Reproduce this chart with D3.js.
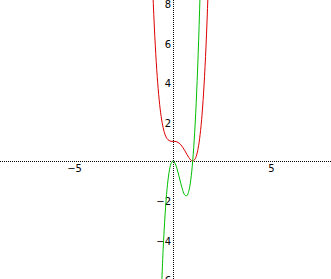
<!DOCTYPE html>
<html>
<head>
<meta charset="utf-8">
<script src="https://cdn.jsdelivr.net/npm/d3@7"></script>
<style>
  body { margin: 0; background: #fff; }
  text { font-family: "DejaVu Sans", sans-serif; font-size: 10px; fill: #000; }
</style>
</head>
<body>
<div id="chart"></div>
<script>
// red curve points
const redX = [-1.1, -1.0, -0.9, -0.8, -0.7, -0.6, -0.5, -0.4, -0.3, -0.2, -0.1, 0, 0.1, 0.2, 0.3, 0.4, 0.5, 0.6, 0.7, 0.8, 0.9, 1.0, 1.1, 1.2, 1.3, 1.4, 1.5, 1.6, 1.7, 1.8, 1.9]
const redY = [10.72, 8, 5.88, 4.28, 3.09, 2.25, 1.69, 1.33, 1.13, 1.04, 1.0, 1, 0.996, 0.973, 0.916, 0.821, 0.688, 0.525, 0.348, 0.181, 0.052, 0, 0.068, 0.309, 0.78, 1.55, 2.69, 4.28, 6.4, 9.16, 12.66]

// green curve points
const greenX = [-0.6, -0.5, -0.4, -0.3, -0.2, -0.1, 0, 0.1, 0.2, 0.3, 0.4, 0.5, 0.6, 0.7, 0.8, 0.9, 1.0, 1.1, 1.2, 1.3, 1.4, 1.5]
const greenY = [-6.91, -4.5, -2.69, -1.4, -0.58, -0.13, 0, -0.108, -0.384, -0.756, -1.152, -1.5, -1.728, -1.764, -1.536, -0.972, 0, 1.452, 3.456, 6.084, 9.408, 13.5]

// tick labels
const xTicks = [-5, 5]
const yTicks = [-6, -4, -2, 2, 4, 6, 8]

const width = 331
const height = 279
const unit = 19.7

const svg = d3
  .select("#chart")
  .append("svg")
  .attr("width", width)
  .attr("height", height)

const x = d3.scaleLinear().domain([-173 / unit, (width - 173) / unit]).range([0, width])
const y = d3.scaleLinear().domain([161 / unit, (161 - height) / unit]).range([0, height])

svg.append("defs").append("clipPath").attr("id", "clip")
  .append("rect").attr("width", width).attr("height", height)

//dotted axes
svg.append("line")
  .attr("x1", 0).attr("x2", width)
  .attr("y1", Math.round(y(0)) + 0.5).attr("y2", Math.round(y(0)) + 0.5)
  .attr("stroke", "#000").attr("stroke-dasharray", "1,1")
svg.append("line")
  .attr("x1", Math.round(x(0)) + 0.5).attr("x2", Math.round(x(0)) + 0.5)
  .attr("y1", 0).attr("y2", height)
  .attr("stroke", "#000").attr("stroke-dasharray", "1,1")

//tick labels
svg.selectAll(".xl")
  .data(xTicks)
  .enter()
  .append("text")
  .attr("class", "xl")
  .attr("x", d => x(d))
  .attr("y", y(0) + 11)
  .attr("text-anchor", "middle")
  .text(d => d < 0 ? "\u2212" + Math.abs(d) : d)

svg.selectAll(".yl")
  .data(yTicks)
  .enter()
  .append("text")
  .attr("class", "yl")
  .attr("x", x(0) - 2)
  .attr("y", d => y(d) + 5)
  .attr("text-anchor", "end")
  .text(d => d < 0 ? "\u2212" + Math.abs(d) : d)

const line = d3.line()
  .x(d => x(d[0]))
  .y(d => y(d[1]))
  .curve(d3.curveCatmullRom)

const g = svg.append("g").attr("clip-path", "url(#clip)")

g.append("path")
  .datum(d3.zip(redX, redY))
  .attr("d", line)
  .attr("fill", "none")
  .attr("stroke", "#dd0000")
  .attr("stroke-width", 1)

g.append("path")
  .datum(d3.zip(greenX, greenY))
  .attr("d", line)
  .attr("fill", "none")
  .attr("stroke", "#00c000")
  .attr("stroke-width", 1)
</script>
</body>
</html>
